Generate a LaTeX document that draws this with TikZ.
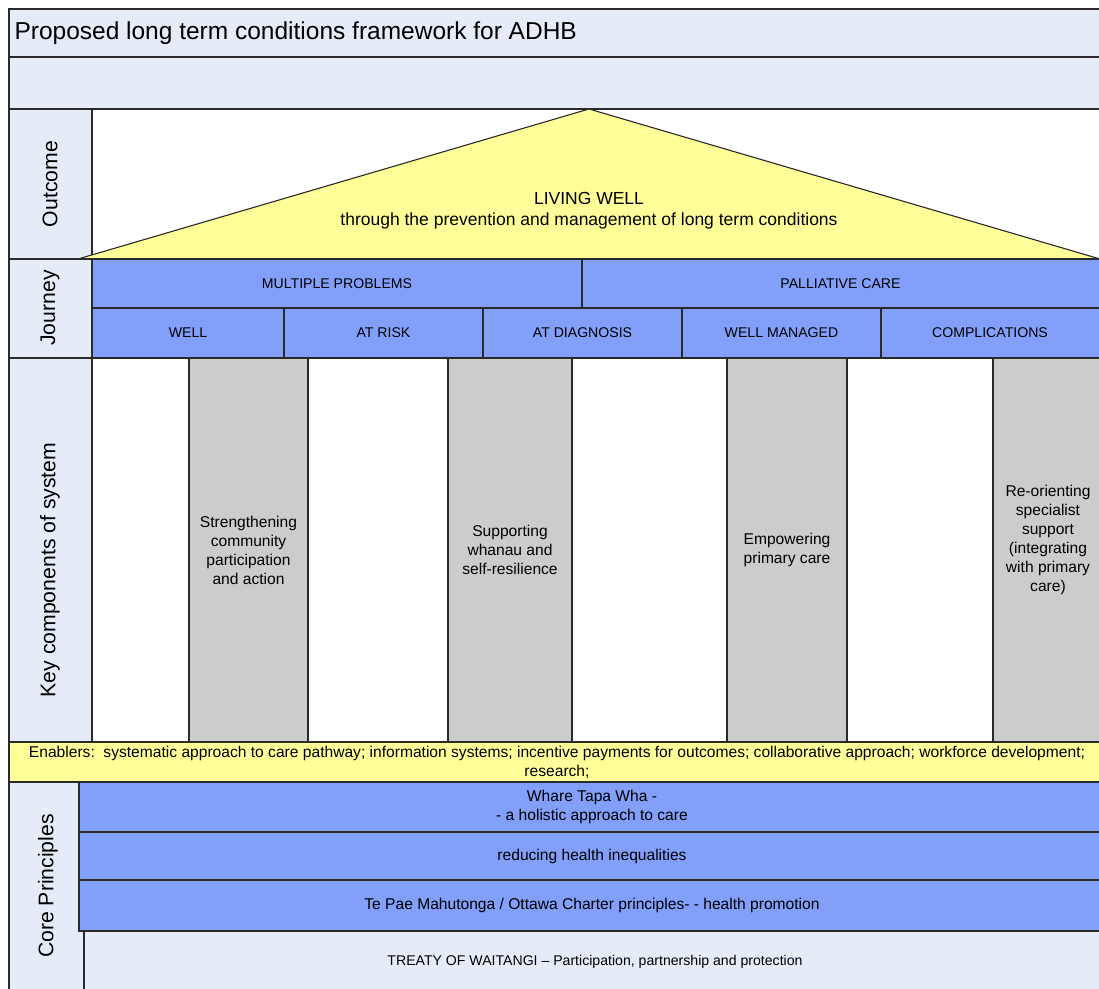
\documentclass[tikz,border=0pt]{standalone}
\usepackage{fontspec}
\setmainfont{Liberation Sans}
\definecolor{lb}{HTML}{E6ECF7}
\definecolor{bl}{HTML}{829FFA}
\definecolor{yl}{HTML}{FFFF99}
\definecolor{gr}{HTML}{CCCCCC}
\definecolor{ln}{HTML}{2A2A2A}
\begin{document}
\begin{tikzpicture}[x=1pt,y=-1pt,
  cell/.style={draw=ln,line width=1.1pt,anchor=north west,inner sep=0pt,outer sep=0pt},
  lbl/.style={rotate=90,font=\fontsize{21.2}{24}\selectfont,text=black},
  small/.style={font=\fontsize{14.1}{16}\selectfont},
  body/.style={font=\fontsize{15.6}{19}\selectfont,align=center}]
\useasboundingbox (0,0) rectangle (1099,988);
\clip (0,0) rectangle (1099,988);
% header
\node[cell,fill=lb,minimum width=1096pt,minimum height=48pt] (title) at (9,9) {};
\node[anchor=west,font=\fontsize{24.5}{28}\selectfont] (titletext) at (11,33) {Proposed long term conditions framework for ADHB};
\node[cell,fill=lb,minimum width=1096pt,minimum height=52pt] (band) at (9,57) {};
% outcome
\node[cell,fill=lb,minimum width=83pt,minimum height=150pt] (outl) at (9,109) {};
\node[lbl] (outt) at (50,184) {Outcome};
\node[cell,fill=white,minimum width=1013pt,minimum height=150pt] (outarea) at (92,109) {};
\coordinate (apex) at (589,109);
\coordinate (bl) at (78,259);
\coordinate (br) at (1100,259);
\draw[ln,line width=1.1pt,fill=yl] (bl) -- (apex) -- (br) -- cycle;
\node[body,font=\fontsize{17.5}{21}\selectfont] (living) at (589,211) {LIVING WELL\\through the prevention and management of long term conditions};
% journey
\node[cell,fill=lb,minimum width=83pt,minimum height=99pt] (jl) at (9,259) {};
\node[lbl] (jt) at (50,308) {Journey};
\node[cell,fill=bl,minimum width=490pt,minimum height=49pt,small] (mp) at (92,259) {MULTIPLE PROBLEMS};
\node[cell,fill=bl,minimum width=523pt,minimum height=49pt,small] (pc) at (582,259) {\hspace*{-6pt}PALLIATIVE CARE};
\node[cell,fill=bl,minimum width=192pt,minimum height=50pt,small] (well) at (92,308) {WELL};
\node[cell,fill=bl,minimum width=199pt,minimum height=50pt,small] (risk) at (284,308) {AT RISK};
\node[cell,fill=bl,minimum width=199pt,minimum height=50pt,small] (diag) at (483,308) {AT DIAGNOSIS};
\node[cell,fill=bl,minimum width=199pt,minimum height=50pt,small] (wm) at (682,308) {WELL MANAGED};
\node[cell,fill=bl,minimum width=224pt,minimum height=50pt,small] (comp) at (881,308) {\hspace*{-6pt}COMPLICATIONS};
% key components
\node[cell,fill=lb,minimum width=83pt,minimum height=384pt] (kl) at (9,358) {};
\node[lbl] (kt) at (50,570) {Key components of system};
\node[cell,fill=white,minimum width=1013pt,minimum height=384pt] (karea) at (92,358) {};
\node[cell,fill=gr,minimum width=119pt,minimum height=384pt] (p1) at (189,358) {};
\node[cell,fill=gr,minimum width=124pt,minimum height=384pt] (p2) at (448,358) {};
\node[cell,fill=gr,minimum width=120pt,minimum height=384pt] (p3) at (727,358) {};
\node[cell,fill=gr,minimum width=112pt,minimum height=384pt] (p4) at (993,358) {};
\node[body] (p1t) at (248.5,550) {Strengthening\\community\\participation\\and action};
\node[body] (p2t) at (510,550) {Supporting\\whanau and\\self-resilience};
\node[body] (p3t) at (787,550) {Empowering\\primary care};
\node[body] (p4t) at (1048,540) {Re-orienting\\specialist\\support\\(integrating\\with primary\\care)};
% enablers
\node[cell,fill=yl,minimum width=1096pt,minimum height=40pt] (en) at (9,742) {};
\node[body] (ent) at (557,762) {Enablers:\ \ systematic approach to care pathway; information systems; incentive payments for outcomes; collaborative approach; workforce development;\\research;};
% core principles
\node[cell,fill=lb,minimum width=75pt,minimum height=210pt] (cl) at (9,782) {};
\node[lbl] (ct) at (48,886) {Core Principles};
\node[cell,fill=lb,minimum width=1021pt,minimum height=60pt] (treaty) at (84,931) {};
\node[font=\fontsize{14.1}{16}\selectfont] (treatyt) at (595,962) {TREATY OF WAITANGI -- Participation, partnership and protection};
\node[cell,fill=bl,minimum width=1026pt,minimum height=50pt,body] (whare) at (79,782) {Whare Tapa Wha -\\- a holistic approach to care};
\node[cell,fill=bl,minimum width=1026pt,minimum height=48pt,body] (ineq) at (79,832) {reducing health inequalities};
\node[cell,fill=bl,minimum width=1026pt,minimum height=51pt,body] (tepae) at (79,880) {Te Pae Mahutonga / Ottawa Charter principles- - health promotion};
\end{tikzpicture}
\end{document}
